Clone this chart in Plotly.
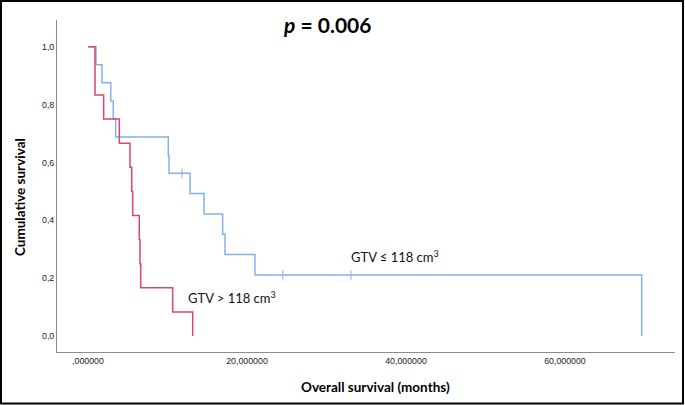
import plotly.graph_objects as go

# Kaplan-Meier steps (months, cumulative survival)
blue_time = [0, 1.0, 1.76, 2.86, 3.18, 3.48, 10.10, 10.19, 12.83, 14.59, 16.94, 17.23, 21.0, 69.65]
blue_surv = [1.0, 0.9375, 0.875, 0.8125, 0.75, 0.6875, 0.625, 0.5625, 0.4922, 0.4219, 0.3516, 0.2813, 0.2109, 0.0]
blue_cens_time = [11.82, 24.5, 33.08]
blue_cens_surv = [0.5625, 0.2109, 0.2109]

red_time = [0, 0.88, 1.97, 3.94, 5.28, 5.50, 5.62, 6.45, 6.54, 6.63, 10.65, 13.17]
red_surv = [1.0, 0.8333, 0.75, 0.6667, 0.5833, 0.5, 0.4167, 0.3333, 0.25, 0.1667, 0.0833, 0.0]

x_ticks = [0, 20, 40, 60]
x_tick_labels = [",000000", "20,000000", "40,000000", "60,000000"]
y_ticks = [0, 0.2, 0.4, 0.6, 0.8, 1.0]
y_tick_labels = ["0,0", "0,2", "0,4", "0,6", "0,8", "1,0"]

BLUE = "#84B0EA"
RED = "#E0446C"

W, H = 685, 405
L, R, T, B = 57, 10, 20, 53
pw, ph = W - L - R, H - T - B

def px_x(p):
    return (p - L) / pw

def px_y(p):
    return (H - B - p) / ph

fig = go.Figure()
fig.add_trace(go.Scatter(x=blue_time, y=blue_surv, mode="lines", line_shape="hv",
                         line=dict(color=BLUE, width=1.5), showlegend=False, hoverinfo="skip"))
fig.add_trace(go.Scatter(x=blue_cens_time, y=blue_cens_surv, mode="markers",
                         marker=dict(symbol="line-ns-open", size=7, color=BLUE,
                                     line=dict(color=BLUE, width=1)),
                         showlegend=False, hoverinfo="skip"))
fig.add_trace(go.Scatter(x=red_time, y=red_surv, mode="lines", line_shape="hv",
                         line=dict(color=RED, width=1.5), showlegend=False, hoverinfo="skip"))

tickfont = dict(family="Liberation Sans, Arial, sans-serif", size=8.8, color="#222222")
fig.update_xaxes(range=[-3.9, 73.84], tickvals=x_ticks, ticktext=x_tick_labels,
                 showgrid=False, zeroline=False, showline=True, linecolor="#8c8c8c", linewidth=1,
                 ticks="", tickfont=tickfont)
fig.update_yaxes(range=[-0.0553, 1.0923], tickvals=y_ticks, ticktext=y_tick_labels,
                 showgrid=False, zeroline=False, showline=True, linecolor="#8c8c8c", linewidth=1,
                 ticks="", tickfont=tickfont)

font_main = "Lato, Noto Sans, sans-serif"
annotations = [
    dict(text="<b><i>p</i> = 0.006</b>", xref="paper", yref="paper", x=px_x(327), y=px_y(25),
         showarrow=False, font=dict(family=font_main, size=21, color="black"), xanchor="center", yanchor="middle"),
    dict(text="<b>Cumulative survival</b>", xref="paper", yref="paper", x=px_x(20), y=px_y(197),
         showarrow=False, textangle=-90, font=dict(family=font_main, size=13.5, color="black"),
         xanchor="center", yanchor="middle"),
    dict(text="<b>Overall survival (months)</b>", xref="paper", yref="paper", x=px_x(375), y=px_y(387),
         showarrow=False, font=dict(family=font_main, size=13.5, color="black"), xanchor="center", yanchor="middle"),
    dict(text="GTV ≤ 118 cm<sup>3</sup>", x=32.8, y=0.274, xref="x", yref="y", showarrow=False,
         font=dict(family=font_main, size=13, color="#111111"), xanchor="left", yanchor="middle"),
    dict(text="GTV > 118 cm<sup>3</sup>", x=12.33, y=0.132, xref="x", yref="y", showarrow=False,
         font=dict(family=font_main, size=13, color="#111111"), xanchor="left", yanchor="middle"),
]

fig.update_layout(
    width=W, height=H,
    margin=dict(l=L, r=R, t=T, b=B),
    plot_bgcolor="white", paper_bgcolor="white",
    annotations=annotations,
    shapes=[dict(type="rect", xref="paper", yref="paper",
                 x0=px_x(1), x1=px_x(683), y0=px_y(403.5), y1=px_y(1),
                 line=dict(color="black", width=2), fillcolor="rgba(0,0,0,0)")],
)

fig.write_html("out.html", config={"displayModeBar": False},
               post_script="document.body.style.margin='0';document.body.style.overflow='hidden';")
